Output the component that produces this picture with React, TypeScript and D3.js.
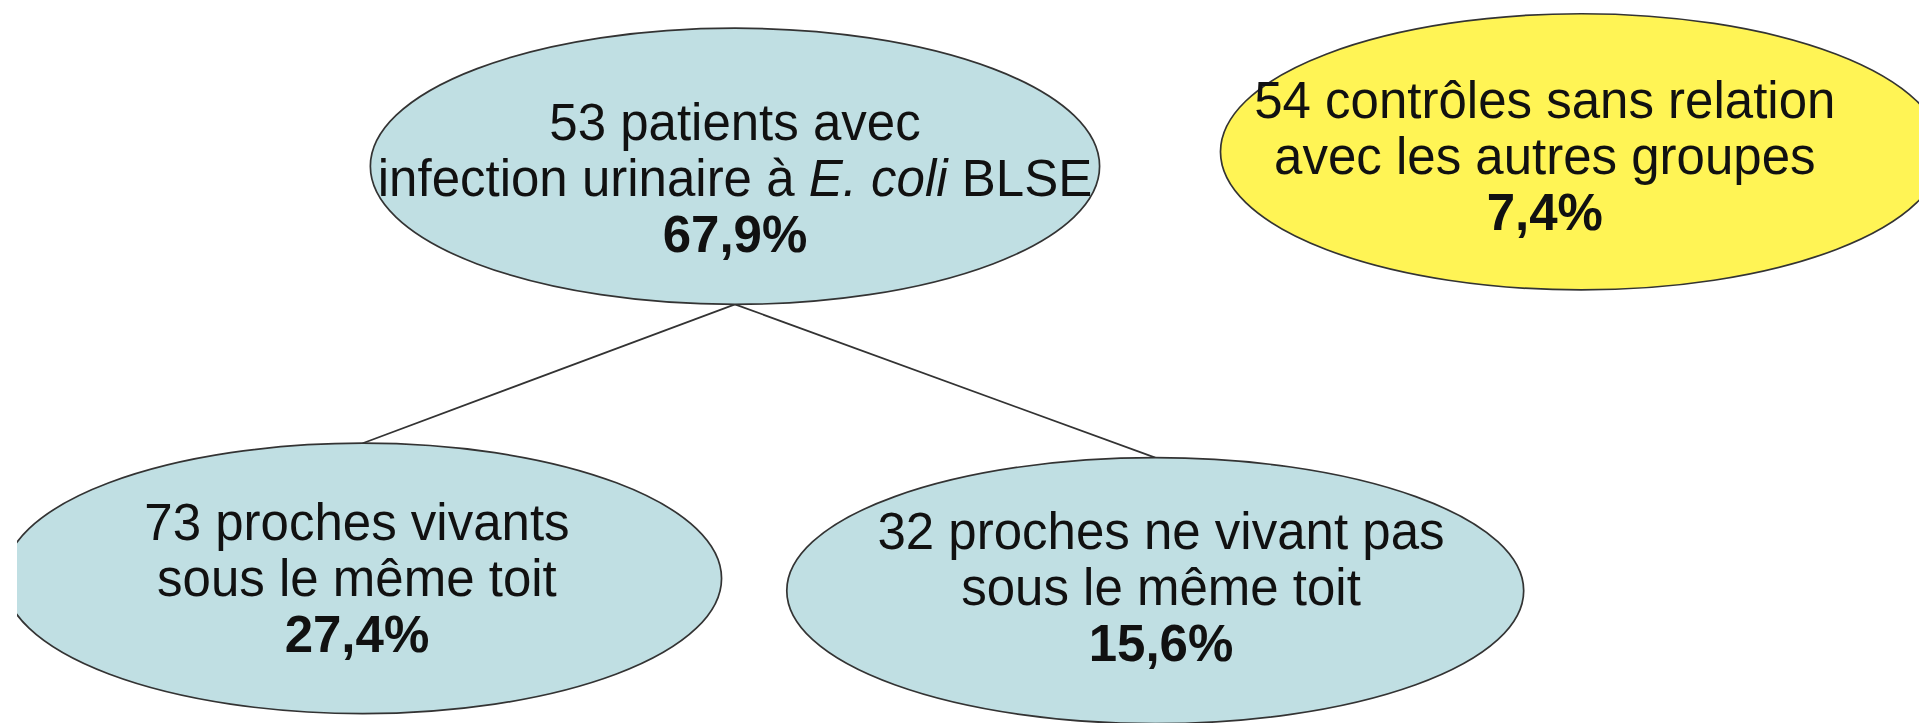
import React from 'react';
import * as d3 from 'd3';

// groups of the study (text lines inside each ellipse)
const groupIds = ['index', 'household', 'nonHousehold', 'controls'];
const groupCounts = [53, 73, 32, 54];
const groupLine1 = ['patients avec', 'proches vivants', 'proches ne vivant pas', 'contrôles sans relation'];
const groupLine2 = ['infection urinaire à ', 'sous le même toit', 'sous le même toit', 'avec les autres groupes'];
const groupPercent = ['67,9%', '27,4%', '15,6%', '7,4%'];

// links between groups
const links = [
  ['index', 'household'],
  ['index', 'nonHousehold'],
];

const W = 1919;
const H = 723;

// layout in % of the picture (ty = text offset in px)
const layout: Record<string, { cx: number; cy: number; rx: number; ry: number; tx: number; ty: number; fill: string }> = {
  index: { cx: 38.3, cy: 23.0, rx: 19.0, ry: 19.1, tx: 38.3, ty: 12, fill: '#c0dfe3' },
  household: { cx: 18.9, cy: 80.0, rx: 18.7, ry: 18.7, tx: 18.6, ty: 0, fill: '#c0dfe3' },
  nonHousehold: { cx: 60.2, cy: 81.7, rx: 19.2, ry: 18.4, tx: 60.5, ty: -4, fill: '#c0dfe3' },
  controls: { cx: 82.4, cy: 21.0, rx: 18.8, ry: 19.1, tx: 80.5, ty: 4, fill: '#fff455' },
};

const App = () => {
  const x = d3.scaleLinear().domain([0, 100]).range([0, W]);
  const y = d3.scaleLinear().domain([0, 100]).range([0, H]);

  const fontSize = 51;
  const lineGap = 56;

  return (
    <svg
      width={W}
      height={H}
      style={{ position: 'absolute', left: 0, top: 0, background: '#fff' }}
      fontFamily="'Liberation Sans', Arial, Helvetica, sans-serif"
    >
      <defs>
        <clipPath id="pageClip">
          <rect x={17} y={0} width={W - 17} height={H} />
        </clipPath>
      </defs>
      <g clipPath="url(#pageClip)">
        {links.map(([s, t]) => {
          const a = layout[s];
          const b = layout[t];
          return (
            <line
              key={s + t}
              x1={x(a.cx)}
              y1={y(a.cy) + y(a.ry)}
              x2={x(b.cx)}
              y2={y(b.cy) - y(b.ry)}
              stroke="#333"
              strokeWidth={1.7}
            />
          );
        })}
        {groupIds.map((id, i) => {
          const l = layout[id];
          const cx = x(l.cx);
          const cy = y(l.cy) + l.ty;
          const tx = x(l.tx);
          return (
            <g key={id}>
              <ellipse cx={cx} cy={y(l.cy)} rx={x(l.rx)} ry={y(l.ry)} fill={l.fill} stroke="#333" strokeWidth={1.7} />
              <text x={tx} y={cy - lineGap + 18} textAnchor="middle" fontSize={fontSize} fill="#111">
                {groupCounts[i] + ' ' + groupLine1[i]}
              </text>
              <text x={tx} y={cy + 18} textAnchor="middle" fontSize={fontSize} fill="#111">
                {id === 'index' ? (
                  <>
                    {groupLine2[i]}
                    <tspan fontStyle="italic">E. coli</tspan>
                    {' BLSE'}
                  </>
                ) : (
                  groupLine2[i]
                )}
              </text>
              <text x={tx} y={cy + lineGap + 18} textAnchor="middle" fontSize={fontSize} fontWeight="bold" fill="#111">
                {groupPercent[i]}
              </text>
            </g>
          );
        })}
      </g>
    </svg>
  );
};

export default App;
